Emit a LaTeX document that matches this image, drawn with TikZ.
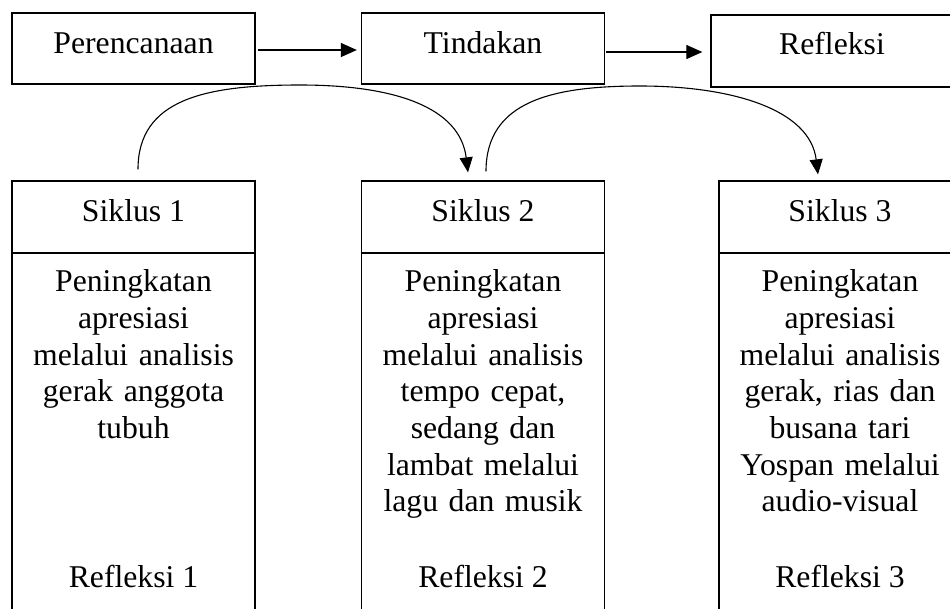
\documentclass[tikz,border=0pt]{standalone}
\usepackage{fontspec}
\setmainfont{Liberation Serif}
\usetikzlibrary{arrows.meta}
\begin{document}
\begin{tikzpicture}[x=1pt,y=-1pt,
  box/.style={draw,line width=1.3pt,rectangle,inner sep=0pt},
  txt/.style={anchor=base,inner sep=0pt,font=\fontsize{31.7}{36.7}\selectfont},
  body/.style={txt,text width=240pt,align=center},
  arr/.style={line width=1.2pt,-{Triangle[length=16pt,width=14pt]}},
  carr/.style={line width=1.1pt,-{Triangle[length=15pt,width=13pt]}}]
\useasboundingbox (0,0) rectangle (950,608);
\clip (0,0) rectangle (950,608);
\fill[white] (0,0) rectangle (950,608);
% top boxes
\node[box,minimum width=243pt,minimum height=71pt] (per) at (133.5,48.5) {};
\node[box,minimum width=243pt,minimum height=71pt] (tin) at (483,48.5) {};
\node[box,minimum width=242pt,minimum height=72pt] (ref) at (832,51) {};
\node[txt] (tper) at (133.5,53) {Perencanaan};
\node[txt] (ttin) at (483,53) {Tindakan};
\node[txt] (tref) at (832,54) {Refleksi};
% arrows top
\draw[arr,shorten <=2pt,shorten >=4pt] (per.east |- 0,50) -- (tin.west |- 0,50);
\draw[arr,shorten <=1pt,shorten >=8pt] (tin.east |- 0,52) -- (ref.west |- 0,52);
% cycle boxes
\node[box,minimum width=243pt,minimum height=72pt] (s1) at (133.5,217) {};
\node[box,minimum width=242.6pt,minimum height=72pt] (s2) at (483,217) {};
\node[box,minimum width=242pt,minimum height=72pt] (s3) at (840,217) {};
\node[box,minimum width=243pt,minimum height=380pt] (b1) at (133.5,443) {};
\node[box,minimum width=242.6pt,minimum height=380pt] (b2) at (483,443) {};
\node[box,minimum width=242pt,minimum height=380pt] (b3) at (840,443) {};
\node[txt] (ts1) at (133.5,221) {Siklus 1};
\node[txt] (ts2) at (483,221) {Siklus 2};
\node[txt] (ts3) at (840,221) {Siklus 3};
\node[body] (tb1) at (133.5,291.7) {Peningkatan\\apresiasi\\melalui analisis\\gerak anggota\\tubuh};
\node[body] (tb2) at (483,291.7) {Peningkatan\\apresiasi\\melalui analisis\\tempo cepat,\\sedang dan\\lambat melalui\\lagu dan musik};
\node[body] (tb3) at (840,291.7) {Peningkatan\\apresiasi\\melalui analisis\\gerak, rias dan\\busana tari\\Yospan melalui\\audio-visual};
\node[txt] (tr1) at (133.5,587) {Refleksi 1};
\node[txt] (tr2) at (483,587) {Refleksi 2};
\node[txt] (tr3) at (840,587) {Refleksi 3};
% curved arrows
\draw[carr] ([xshift=4.5pt,yshift=11pt]s1.north) .. controls +(0,-70) and +(-95,0) .. (300,85)
  .. controls +(95,0) and +(-8,-65) .. ([xshift=-15pt,yshift=8pt]s2.north);
\draw[carr] ([xshift=3pt,yshift=9pt]s2.north) .. controls +(0,-70) and +(-88,0) .. (640,86)
  .. controls +(92,0) and +(-8,-65) .. ([xshift=-22pt,yshift=6pt]s3.north);
\end{tikzpicture}
\end{document}
